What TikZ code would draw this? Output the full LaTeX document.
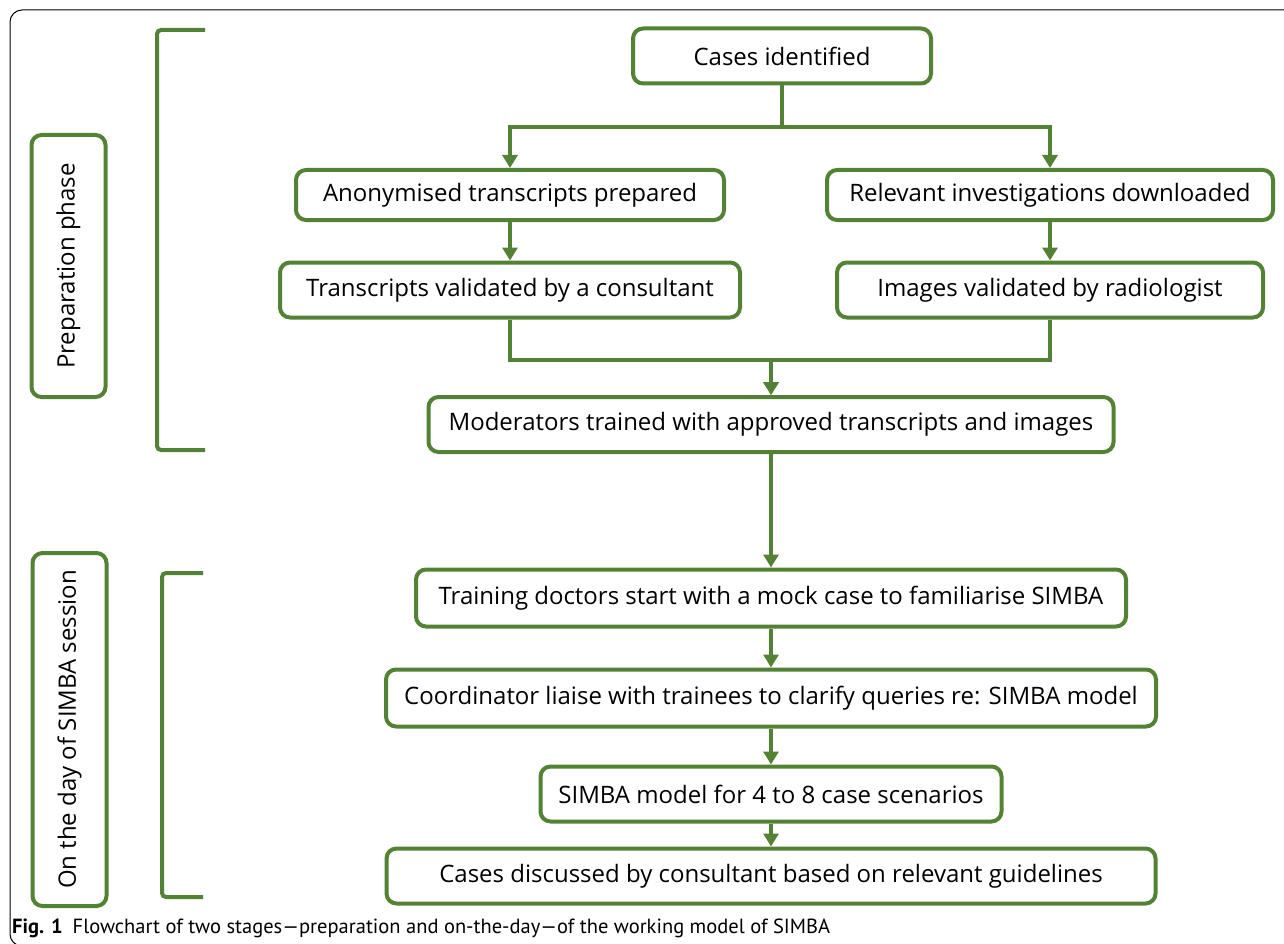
\documentclass[tikz,border=0pt]{standalone}
\usepackage{fontspec}
\setmainfont{Open Sans}
\newfontfamily\capfont{PT Sans}
\usetikzlibrary{arrows.meta,positioning}
\definecolor{simbagreen}{RGB}{84,130,53}
\begin{document}
\begin{tikzpicture}[
    x=1pt, y=-1pt,
    box/.style={draw=simbagreen, line width=4pt, rounded corners=10pt, fill=white, align=center,
      inner sep=0pt, minimum height=55pt, font=\fontsize{24}{28}\selectfont},
    phase/.style={box, rotate=90, minimum height=74pt},
    arr/.style={draw=simbagreen, line width=4pt, -{Triangle[width=15pt,length=13pt]}},
    brk/.style={draw=simbagreen, line width=4pt, rounded corners=4pt}
]
\useasboundingbox (0,0) rectangle (1284,944);
% outer frame
\draw[black, line width=1pt, rounded corners=12pt] (10,10) rectangle (1300,946);

% phase labels and brackets
\node[phase, minimum width=262pt] (prep) at (68.5,266) {Preparation phase};
\node[phase, minimum width=353pt] (day) at (69.5,729.5) {On the day of SIMBA session};
\draw[brk] (205,30) -- (157,30) -- (157,450) -- (205,450);
\draw[brk] (203,573) -- (162,573) -- (162,897) -- (203,897);

% preparation phase
\node[box, minimum width=298pt] (cases) at (782,56) {Cases identified};
\node[box, minimum width=428pt, minimum height=50pt] (anon) at (510,195) {Anonymised transcripts prepared};
\node[box, minimum width=446pt, minimum height=50pt] (relev) at (1050,195) {Relevant investigations downloaded};
\node[box, minimum width=460pt] (trval) at (510,290) {Transcripts validated by a consultant};
\node[box, minimum width=426pt] (imgval) at (1050,290) {Images validated by radiologist};
\node[box, minimum width=685pt] (moder) at (771,424.5) {Moderators trained with approved transcripts and images};

% on the day
\node[box, minimum width=710pt, minimum height=57pt] (train) at (771,598) {Training doctors start with a mock case to familiarise SIMBA};
\node[box, minimum width=770pt, minimum height=57pt] (coord) at (771,698) {Coordinator liaise with trainees to clarify queries re: SIMBA model};
\node[box, minimum width=461pt] (simba) at (771,794) {SIMBA model for 4 to 8 case scenarios};
\node[box, minimum width=769pt] (discuss) at (771,876) {Cases discussed by consultant based on relevant guidelines};

\draw[arr] (cases.south) -- ++(0,42) -| (anon.north);
\draw[arr] (cases.south) -- ++(0,42) -| (relev.north);
\draw[arr] (anon) -- (trval);
\draw[arr] (relev) -- (imgval);
\draw[arr] (trval.south) -- ++(0,40) -| (moder.north);
\draw[arr] (imgval.south) -- ++(0,40) -| (moder.north);
\draw[arr] (moder) -- (train);
\draw[arr] (train) -- (coord);
\draw[arr] (coord) -- (simba);
\draw[arr] (simba) -- (discuss);

% caption
\node[anchor=west, inner sep=0pt, font=\capfont\fontsize{20.5}{24}\selectfont] (caption) at (12,928)
  {\textbf{Fig. 1}\hspace{10pt}Flowchart of two stages—preparation and on-the-day—of the working model of SIMBA};
\end{tikzpicture}
\end{document}
